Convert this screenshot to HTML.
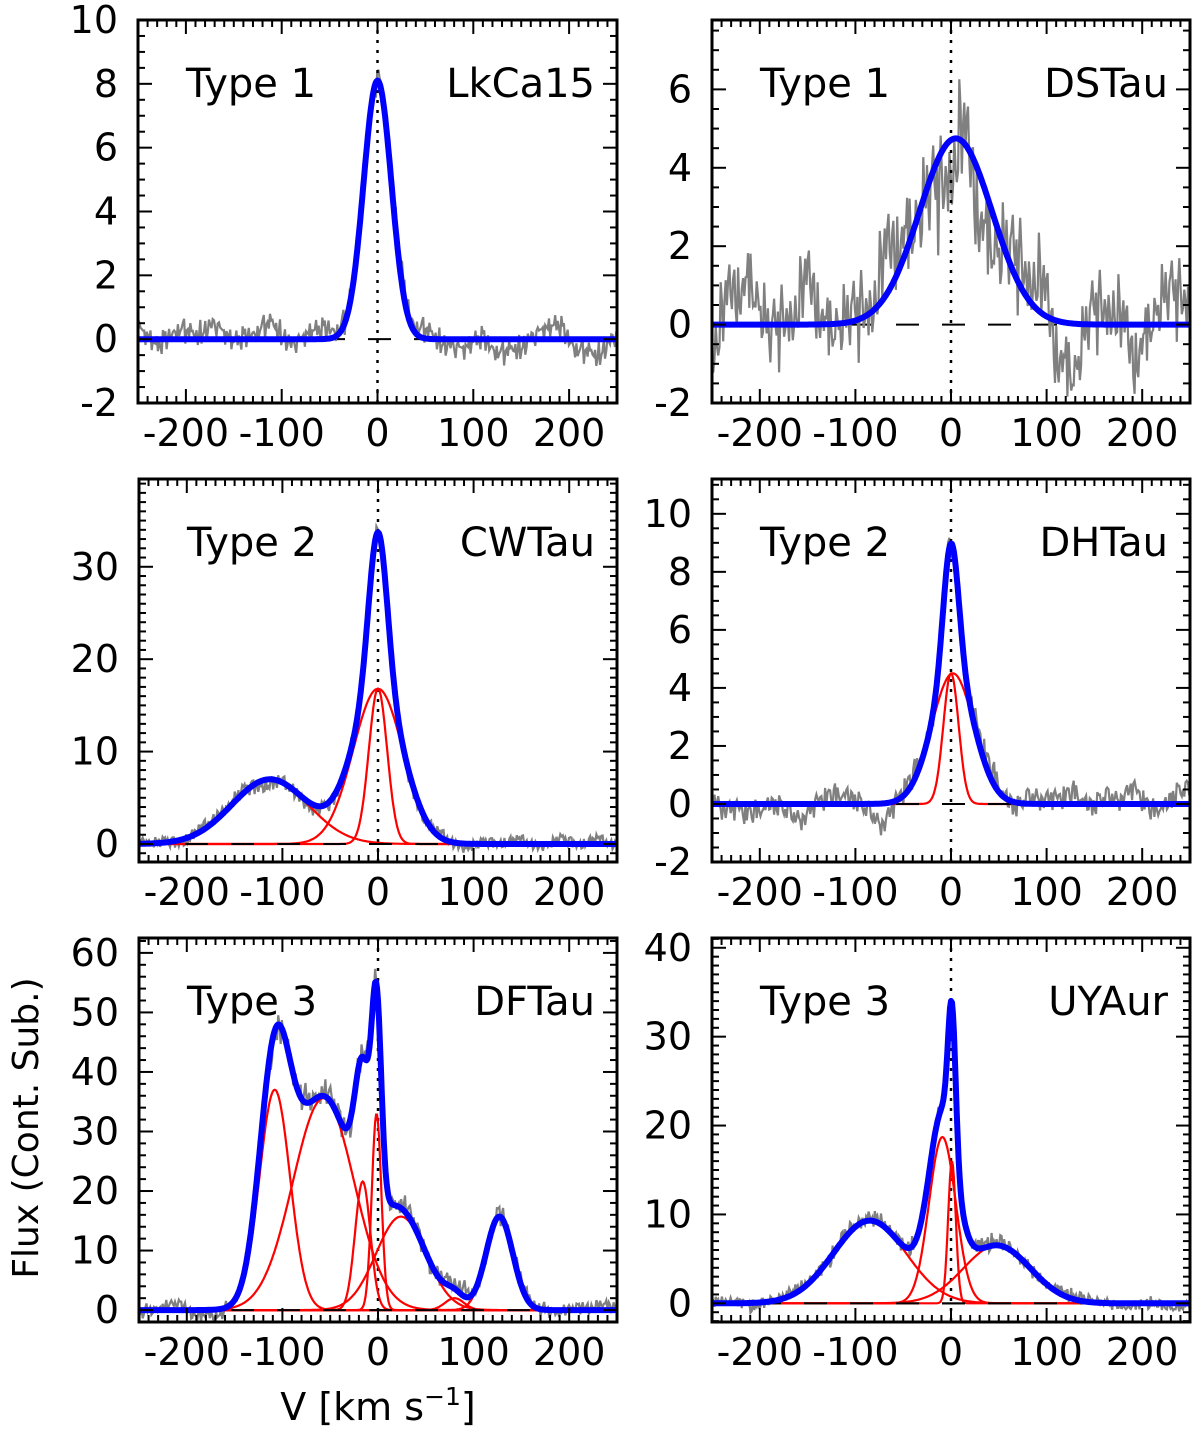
<!DOCTYPE html>
<html><head><meta charset="utf-8"><style>
body{margin:0;background:#fff}
svg{display:block;font-family:"DejaVu Sans","Liberation Sans",sans-serif}
</style></head><body>
<svg id="fig" width="1200" height="1432" viewBox="0 0 1200 1432" xmlns="http://www.w3.org/2000/svg">
<text x="378" y="1420" font-size="38" text-anchor="middle">V [km s<tspan dy="-15" font-size="25">−1</tspan><tspan dy="15">]</tspan></text>
<text transform="translate(38,1128) rotate(-90)" font-size="36" text-anchor="middle">Flux (Cont. Sub.)</text>
</svg>
<script>
const NS="http://www.w3.org/2000/svg";
const svg=document.getElementById('fig');
// panel names & types
const panelNames=["LkCa15","DSTau","CWTau","DHTau","DFTau","UYAur"];
const panelTypes=["Type 1","Type 1","Type 2","Type 2","Type 3","Type 3"];
// y ranges
const yMins=[-2,-2,-1.95,-2,-2,-2.1];
const yMaxs=[10,7.77,39.5,11.2,62.5,41.1];
const yTickLabels=[[-2,0,2,4,6,8,10],[-2,0,2,4,6],[0,10,20,30],[-2,0,2,4,6,8,10],[0,10,20,30,40,50,60],[0,10,20,30,40]];
const yMinorSteps=[0.5,0.5,1,0.5,2,1];
const xTickLabels=[-200,-100,0,100,200];
// gaussian components [amp, center, sigma]
const compsLkCa15=[[8.1,0,14.5]];
const compsDSTau=[[4.75,5,38]];
const compsCWTau=[[7,-113,40],[16.8,0,26],[16.8,0,9.6]];
const compsDHTau=[[4.5,2,22],[4.5,0,8]];
const compsDFTau=[[37,-108,16],[35.6,-57,32],[21.6,-16,8],[33,-1.5,5],[15.7,24,26],[2,80,10],[15.7,127,14]];
const compsUYAur=[[9.3,-85,38],[18.7,-9,14],[16,1,4],[6.5,48,35]];
const panelComps=[compsLkCa15,compsDSTau,compsCWTau,compsDHTau,compsDFTau,compsUYAur];
const showRed=[false,false,true,true,true,true];
// high-frequency noise amplitude and slow wander amplitude per panel
const noiseAmps=[0.45,1.3,0.7,0.6,1.3,0.8];
const wanderAmps=[0.45,1.1,0.5,0.45,1.0,0.5];
// residual pattern (noise shape)
const residuals=[0.3,-0.8,0.5,1.0,-0.2,-0.9,0.6,0.1,-0.5,0.9,-1.0,0.2,0.7,-0.4,-0.1,0.8,-0.7,0.4,-0.9,0.6,0.0,-0.3,1.0,-0.6,0.3,-1.0,0.5,0.8,-0.2,-0.7,0.9,-0.4,0.2,-0.8,0.6,-0.1,0.4,-0.6,1.0,-0.9,0.1,0.7,-0.5,0.3,-0.2,0.9,-1.0,0.5,-0.3,0.8,-0.7,0.2,0.6,-0.4,-0.9,0.4,0.1,-0.6,0.7,-0.1,0.9,-0.8,0.3,-0.5];
// slow baseline wander, one value per 20 km/s
const wander=[0.8,-0.6,0.9,0.2,1.0,-0.3,0.6,1.1,-0.5,0.4,0.9,0.0,-0.2,0.3,0.8,0.6,-0.4,-0.8,0.2,-1.0,-0.6,0.5,1.0,-0.7,-1.2,0.3,0.7,-0.9,0.1,0.6];

const boxes=[[138,20,617,403],[712,20,1190,403],[139,479,617,862],[712,479,1190,862],[139,938,617,1322],[712,938,1190,1322]];
function mk(tag,attrs,parent){const e=document.createElementNS(NS,tag);for(const k in attrs)e.setAttribute(k,attrs[k]);(parent||svg).appendChild(e);return e;}
function gauss(c,v){return c[0]*Math.exp(-(v-c[1])*(v-c[1])/(2*c[2]*c[2]));}
function wanderAt(v,off){const u=(v+250)/20;const k=Math.floor(u);const f=u-k;const a=wander[(k+off)%wander.length],b=wander[(k+1+off)%wander.length];return a*(1-f)+b*f;}

panelNames.forEach((nm,p)=>{
  const [L,T,R,B]=boxes[p];
  const ymin=yMins[p],ymax=yMaxs[p];
  const xs=v=>L+(v+250)/500*(R-L);
  const ys=y=>B-(y-ymin)/(ymax-ymin)*(B-T);
  const g=mk('g',{});
  
  
  const clipId='clip'+p;
  const cp=mk('clipPath',{id:clipId},g);mk('rect',{x:L,y:T,width:R-L,height:B-T},cp);
  const pg=mk('g',{'clip-path':'url(#'+clipId+')'},g);
  const comps=panelComps[p];
  // zero line
  const zl=mk('line',{x1:L,x2:R,y1:ys(0),y2:ys(0),stroke:'#000','stroke-width':2,'stroke-dasharray':'23,23'},pg);
  
  
  // observed spectrum
  let d='';let i=0;
  for(let v=-250;v<=250;v+=1.3,i++){
    let m=0;comps.forEach(c=>m+=gauss(c,v));
    const r=residuals[(i*7+p*11)%residuals.length]*0.6+residuals[(i*3+p*5)%residuals.length]*0.4;
    const y=m+r*noiseAmps[p]*(1+0.2*Math.sqrt(Math.max(m,0)))+wanderAt(v,p*5)*wanderAmps[p];
    d+=(i?'L':'M')+xs(v).toFixed(1)+','+ys(y).toFixed(1);
  }
  const obs=mk('path',{d:d,fill:'none',stroke:'#808080','stroke-width':2.2},pg);
  
  
  // v=0 dotted
  const vl=mk('line',{x1:xs(0),x2:xs(0),y1:T,y2:B,stroke:'#000','stroke-width':2.5,'stroke-dasharray':'3,7'},pg);
  
  
  // components
  if(showRed[p]){
    comps.forEach((c,k)=>{
      let dd='';let first=true;
      for(let v=-250;v<=250;v+=1){dd+=(first?'M':'L')+xs(v).toFixed(1)+','+ys(gauss(c,v)).toFixed(1);first=false;}
      const cpth=mk('path',{d:dd,fill:'none',stroke:'#ff0000','stroke-width':2.2},pg);
      
      
    });
    const zl2=mk('line',{x1:L,x2:R,y1:ys(0),y2:ys(0),stroke:'#000','stroke-width':2,'stroke-dasharray':'23,23'},pg);
    
    
  }
  // fit
  let fd='';let f=true;
  for(let v=-250;v<=250;v+=1){let m=0;comps.forEach(c=>m+=gauss(c,v));fd+=(f?'M':'L')+xs(v).toFixed(1)+','+ys(m).toFixed(1);f=false;}
  const fit=mk('path',{d:fd,fill:'none',stroke:'#0000ff','stroke-width':6,'stroke-linejoin':'round'},pg);
  
  
  // frame
  const fr=mk('rect',{x:L,y:T,width:R-L,height:B-T,fill:'none',stroke:'#000','stroke-width':3},g);
  
  
  // x ticks
  for(let v=-250;v<=250;v+=10){
    const maj=(v%100===0);const len=maj?14:7;const x=xs(v);
    mk('line',{x1:x,x2:x,y1:B,y2:B-len,stroke:'#000','stroke-width':2},g);
    mk('line',{x1:x,x2:x,y1:T,y2:T+len,stroke:'#000','stroke-width':2},g);
  }
  xTickLabels.forEach(v=>{
    const t=mk('text',{x:xs(v),y:B+43,'font-size':38,'text-anchor':'middle'},g);
    t.textContent=(v<0?'-':'')+Math.abs(v);
    
    
  });
  // y ticks
  const st=yMinorSteps[p];
  for(let y=Math.ceil(ymin/st)*st;y<=ymax;y+=st){
    const yy=ys(y);if(yy<T||yy>B)continue;
    const maj=yTickLabels[p].some(t=>Math.abs(t-y)<1e-6);const len=maj?14:7;
    mk('line',{x1:L,x2:L+len,y1:yy,y2:yy,stroke:'#000','stroke-width':2},g);
    mk('line',{x1:R,x2:R-len,y1:yy,y2:yy,stroke:'#000','stroke-width':2},g);
  }
  yTickLabels[p].forEach(v=>{
    const t=mk('text',{x:L-20,y:ys(v)+13,'font-size':38,'text-anchor':'end'},g);
    t.textContent=(v<0?'-':'')+Math.abs(v);
    
    
  });
  const tl=mk('text',{x:L+48,y:T+77,'font-size':40},g);
  tl.textContent=panelTypes[p];
  
  
  const nl=mk('text',{x:R-22,y:T+77,'font-size':40,'text-anchor':'end'},g);
  nl.textContent=nm;
  
  
});
</script>
</body></html>
